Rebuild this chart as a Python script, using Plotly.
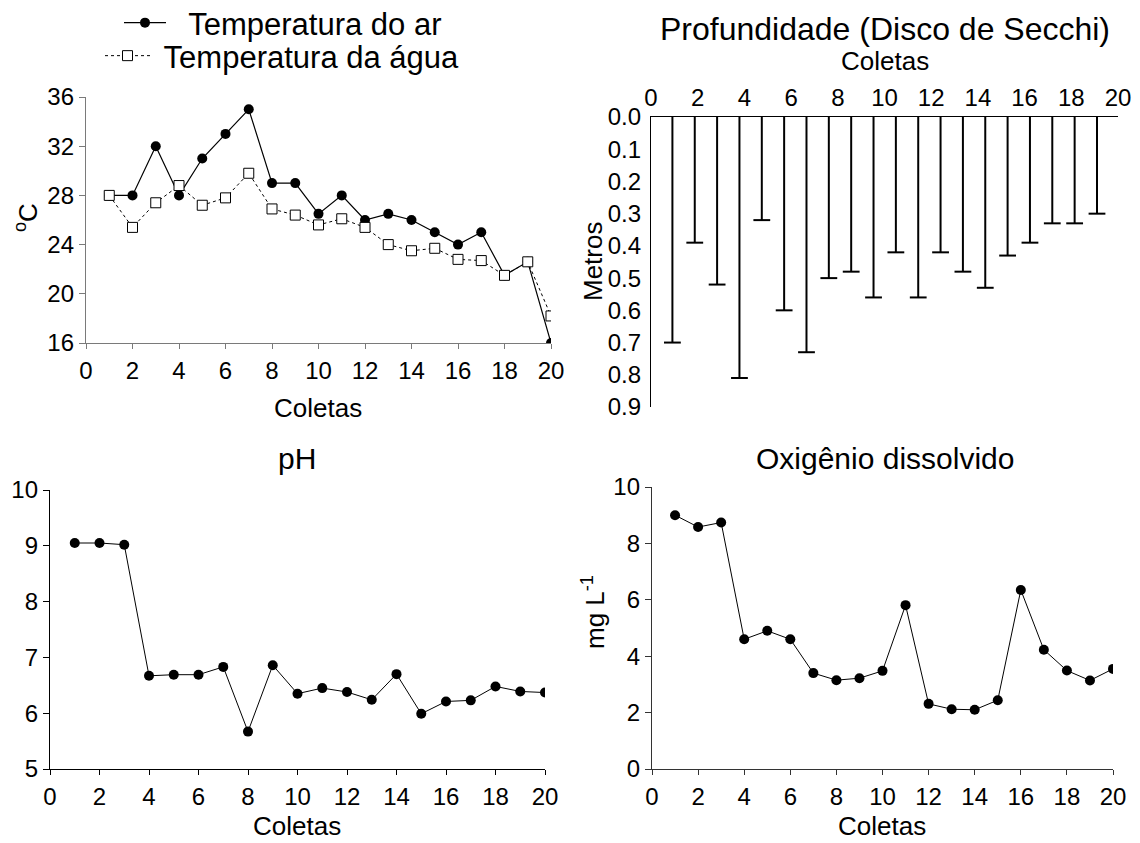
import plotly.graph_objects as go

# ---------------- data ----------------
coletas = list(range(1, 21))
temp_ar = [28, 28, 32, 28, 31, 33, 35, 29, 29, 26.5, 28, 26, 26.5, 26, 25, 24, 25, 21.5, 22.6, 16]
temp_agua = [28, 25.4, 27.4, 28.8, 27.2, 27.8, 29.8, 26.9, 26.4, 25.6, 26.1, 25.4, 24, 23.5, 23.7, 22.8, 22.7, 21.5, 22.6, 18.2]
secchi = [0.70, 0.39, 0.52, 0.81, 0.32, 0.60, 0.73, 0.50, 0.48, 0.56, 0.42, 0.56, 0.42, 0.48, 0.53, 0.43, 0.39, 0.33, 0.33, 0.30]
ph = [9.05, 9.05, 9.02, 6.67, 6.69, 6.69, 6.83, 5.67, 6.86, 6.35, 6.45, 6.38, 6.24, 6.70, 5.99, 6.21, 6.23, 6.48, 6.39, 6.37]
oxigenio = [9.0, 8.58, 8.74, 4.60, 4.90, 4.60, 3.40, 3.15, 3.22, 3.48, 5.81, 2.31, 2.12, 2.10, 2.44, 6.35, 4.23, 3.49, 3.14, 3.55]

x_ticks = list(range(0, 21, 2))
temp_ticks = [16, 20, 24, 28, 32, 36]
secchi_ticks = [0.0, 0.1, 0.2, 0.3, 0.4, 0.5, 0.6, 0.7, 0.8, 0.9]
ph_ticks = [5, 6, 7, 8, 9, 10]
od_ticks = [0, 2, 4, 6, 8, 10]

# ---------------- layout helpers ----------------
W, H = 1140, 843
FONT = "Liberation Sans, Arial, sans-serif"
TICK = 24
AXT = 26
gray = "#7a7a7a"

# In the Secchi panel the drop lines sit on a slightly compressed scale
# relative to the printed 0-20 axis (first at 0.917, spacing 0.957).
S_FIRST, S_STEP = 0.917, 0.957


def to_idx(p):
    return (p - S_FIRST) / S_STEP + 1


def px(v):
    return v / W


def py(v):
    return 1 - v / H


fig = go.Figure()

# Top-left: temperatures
fig.add_trace(go.Scatter(
    x=coletas, y=temp_ar, mode="lines+markers", name="\u00a0\u00a0Temperatura do ar",
    line=dict(color="black", width=1.2),
    marker=dict(symbol="circle", size=10, color="black"),
    xaxis="x", yaxis="y", legend="legend"))
fig.add_trace(go.Scatter(
    x=coletas, y=temp_agua, mode="lines+markers", name="\u00a0Temperatura da água",
    line=dict(color="black", width=1, dash="dot"),
    marker=dict(symbol="square", size=10, color="white", line=dict(color="black", width=1)),
    xaxis="x", yaxis="y", legend="legend2"))

# Top-right: Secchi depth (drop lines with caps)
fig.add_trace(go.Scatter(
    x=coletas, y=secchi, mode="markers", showlegend=False,
    marker=dict(symbol="line-ew", size=12, line=dict(color="black", width=2)),
    error_y=dict(type="data", symmetric=False, array=[0] * len(secchi),
                 arrayminus=secchi, width=0, thickness=2, color="black"),
    xaxis="x2", yaxis="y2"))

# Bottom-left: pH
fig.add_trace(go.Scatter(
    x=coletas, y=ph, mode="lines+markers", showlegend=False,
    line=dict(color="black", width=1),
    marker=dict(symbol="circle", size=10, color="black"),
    xaxis="x3", yaxis="y3"))

# Bottom-right: dissolved oxygen
fig.add_trace(go.Scatter(
    x=coletas, y=oxigenio, mode="lines+markers", showlegend=False,
    line=dict(color="black", width=1),
    marker=dict(symbol="circle", size=10, color="black"),
    xaxis="x4", yaxis="y4"))

tickfont = dict(family=FONT, size=TICK, color="black")


def xax(domain, anchor, color, **kw):
    d = dict(domain=domain, anchor=anchor, range=[0, 20], tickvals=x_ticks,
             showline=True, linecolor=color, linewidth=1.3, ticks="outside",
             ticklen=5, tickcolor=color, tickwidth=1, showgrid=False,
             zeroline=False, tickfont=tickfont, ticklabelstandoff=1)
    d.update(kw)
    return d


def yax(domain, anchor, color, rng, tv, **kw):
    d = dict(domain=domain, anchor=anchor, range=rng, tickvals=tv,
             showline=True, linecolor=color, linewidth=1.3, ticks="outside",
             ticklen=6, tickcolor=color, tickwidth=1, showgrid=False,
             zeroline=False, tickfont=tickfont)
    d.update(kw)
    return d


fig.update_layout(
    width=W, height=H, margin=dict(l=0, r=0, t=0, b=0, autoexpand=False),
    paper_bgcolor="white", plot_bgcolor="white",
    font=dict(family=FONT, color="black"),
    xaxis=xax([px(86), px(551)], "y", gray),
    yaxis=yax([py(343), py(97)], "x", gray, [16, 36], temp_ticks),
    xaxis2=dict(domain=[px(651), px(1118)], anchor="y2", side="top",
                range=[to_idx(0), to_idx(20)],
                tickvals=[to_idx(t) for t in x_ticks],
                ticktext=[str(t) for t in x_ticks],
                showline=True, linecolor="black", linewidth=1.3,
                ticks="outside", ticklen=0, tickcolor="rgba(0,0,0,0)",
                showgrid=False, zeroline=False, tickfont=tickfont),
    yaxis2=yax([py(407), py(117)], "x2", "black", [0.9, 0], secchi_ticks,
               tickformat=".1f", ticklen=4, tickcolor="rgba(0,0,0,0)"),
    xaxis3=xax([px(50), px(545)], "y3", "black"),
    yaxis3=yax([py(769), py(490)], "x3", "black", [5, 10], ph_ticks),
    xaxis4=xax([px(652), px(1113)], "y4", "#333333"),
    yaxis4=yax([py(769), py(487)], "x4", "#333333", [0, 10], od_ticks),
    legend=dict(x=px(119), y=py(-4), xanchor="left", yanchor="top",
                font=dict(family=FONT, size=31), itemwidth=42,
                bgcolor="rgba(0,0,0,0)", borderwidth=0),
    legend2=dict(x=px(100), y=py(29), xanchor="left", yanchor="top",
                 font=dict(family=FONT, size=31), itemwidth=45,
                 bgcolor="rgba(0,0,0,0)", borderwidth=0),
)

annots = [
    ("Profundidade (Disco de Secchi)", 885, 29, 32, 0),
    ("Coletas", 885, 61, AXT, 0),
    ("Metros", 593, 262, AXT, -90),
    ("<sup>o</sup>C", 26, 218, AXT, -90),
    ("Coletas", 318, 408, AXT, 0),
    ("pH", 297, 458, 30, 0),
    ("Oxigênio dissolvido", 885, 458, 30, 0),
    ("mg L<sup>-1</sup>", 593, 612, AXT, -90),
    ("Coletas", 297, 826, AXT, 0),
    ("Coletas", 882, 826, AXT, 0),
]
for text, x, y, size, ang in annots:
    fig.add_annotation(text=text, x=px(x), y=py(y), xref="paper", yref="paper",
                       xanchor="center", yanchor="middle", showarrow=False,
                       textangle=ang, font=dict(family=FONT, size=size, color="black"))

fig.write_html("out.html")
